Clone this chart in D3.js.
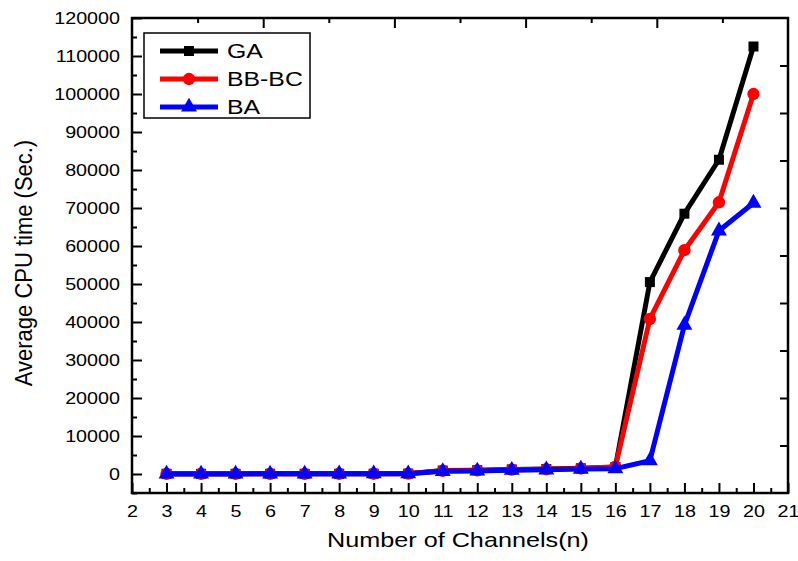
<!DOCTYPE html>
<html>
<head>
<meta charset="utf-8">
<script src="https://cdn.jsdelivr.net/npm/d3@7"></script>
<style>
  body { margin: 0; background: #fff; }
  svg { font-family: Arial, 'Liberation Sans', sans-serif; }
</style>
</head>
<body>
<div class="canvas"></div>
<script>
// values
const channels = [3, 4, 5, 6, 7, 8, 9, 10, 11, 12, 13, 14, 15, 16, 17, 18, 19, 20]
const gaTimes = [50, 50, 50, 60, 60, 70, 80, 100, 900, 1000, 1200, 1300, 1500, 1800, 50500, 68500, 82700, 112500]
const bbbcTimes = [40, 40, 40, 50, 50, 60, 70, 90, 850, 950, 1150, 1250, 1450, 1900, 40800, 58900, 71500, 100000]
const baTimes = [30, 30, 30, 40, 40, 50, 60, 80, 700, 800, 1000, 1100, 1300, 1400, 3500, 39200, 64000, 71300]
const xTickLabels = d3.range(2, 22)
const yTickValues = d3.range(0, 120001, 10000)

const series = [
  {name: 'GA', values: gaTimes, colour: '#000000', symbol: d3.symbolSquare, size: 100},
  {name: 'BB-BC', values: bbbcTimes, colour: '#ff0000', symbol: d3.symbolCircle, size: 120},
  {name: 'BA', values: baTimes, colour: '#0000ff', symbol: d3.symbolTriangle, size: 110}
]

const width = 798
const height = 561
const plot = {left: 132, right: 788, top: 18, bottom: 493}

const svg = d3.select('.canvas').append('svg')
  .attr('width', width)
  .attr('height', height)

// the original text is a bit wider than Arial, stretch it sideways
const stretch = (selection, k) => selection.each(function () {
  const len = this.getComputedTextLength()
  d3.select(this)
    .attr('textLength', len * k)
    .attr('lengthAdjust', 'spacingAndGlyphs')
})

const x = d3.scaleLinear().domain([2, 21]).range([plot.left, plot.right])
const y = d3.scaleLinear().domain([-5000, 120000]).range([plot.bottom, plot.top])

// frame-mirrored axes with their own spacing, like the original
const xTop = d3.scaleLinear().domain([0, 5]).range([plot.left, plot.right])
const yRight = d3.scaleLinear().domain([0, 10]).range([plot.bottom, plot.top])

const bottomAxis = d3.axisBottom(x)
  .tickValues(xTickLabels)
  .tickSize(-10)
  .tickPadding(12)
  .tickFormat(d3.format('d'))

const bottomMinor = d3.axisBottom(x)
  .tickValues(d3.range(2.5, 21, 1))
  .tickSize(-5)
  .tickFormat('')

const leftAxis = d3.axisLeft(y)
  .tickValues(yTickValues)
  .tickSize(-10)
  .tickPadding(12)
  .tickFormat(d3.format('d'))

const leftMinor = d3.axisLeft(y)
  .tickValues(d3.range(-5000, 120000, 10000))
  .tickSize(-5)
  .tickFormat('')

const topMajor = d3.axisTop(xTop).tickValues(d3.range(1, 5)).tickSize(-10).tickFormat('')
const topMinor = d3.axisTop(xTop).tickValues(d3.range(0.5, 5, 1)).tickSize(-5).tickFormat('')
const rightTicks = d3.axisRight(yRight).tickValues(d3.range(1, 10)).tickSize(-8).tickFormat('')

const addAxis = (axis, tx, ty) => svg.append('g')
  .attr('transform', `translate(${tx}, ${ty})`)
  .call(axis)
  .call(g => g.select('.domain').remove())
  .call(g => g.selectAll('line').attr('stroke', '#000').attr('stroke-width', 2))

addAxis(bottomAxis, 0, plot.bottom)
  .selectAll('text').attr('font-size', 17).attr('fill', '#000')
  .call(stretch, 1.16)
addAxis(bottomMinor, 0, plot.bottom)
addAxis(leftAxis, plot.left, 0)
  .selectAll('text').attr('font-size', 17).attr('fill', '#000')
  .call(stretch, 1.16)
addAxis(leftMinor, plot.left, 0)
addAxis(topMajor, 0, plot.top)
addAxis(topMinor, 0, plot.top)
addAxis(rightTicks, plot.right, 0)

svg.append('rect')
  .attr('x', plot.left)
  .attr('y', plot.top)
  .attr('width', plot.right - plot.left)
  .attr('height', plot.bottom - plot.top)
  .attr('fill', 'none')
  .attr('stroke', '#000')
  .attr('stroke-width', 2.5)

const makeLine = d3.line()
  .x((d, i) => x(channels[i]))
  .y(d => y(d))

const graph = svg.append('g')

series.forEach(s => {
  graph.append('path')
    .attr('d', makeLine(s.values))
    .attr('fill', 'none')
    .attr('stroke', s.colour)
    .attr('stroke-width', 5)
    .attr('stroke-linejoin', 'round')

  graph.selectAll(null)
    .data(s.values)
    .enter().append('path')
    .attr('transform', (d, i) => `translate(${x(channels[i])}, ${y(d)})`)
    .attr('d', d3.symbol().type(s.symbol).size(s.size))
    .attr('fill', s.colour)
})

// legend
const legend = svg.append('g')
  .attr('transform', 'translate(144, 33)')

legend.append('rect')
  .attr('width', 166)
  .attr('height', 85)
  .attr('fill', '#fff')
  .attr('stroke', '#000')
  .attr('stroke-width', 1.5)

series.forEach((s, i) => {
  const row = legend.append('g')
    .attr('transform', `translate(0, ${18 + i * 28})`)
  row.append('line')
    .attr('x1', 16).attr('x2', 74)
    .attr('stroke', s.colour)
    .attr('stroke-width', 5)
  row.append('path')
    .attr('transform', 'translate(45, 0)')
    .attr('d', d3.symbol().type(s.symbol).size(s.size))
    .attr('fill', s.colour)
  row.append('text')
    .attr('x', 83)
    .attr('dy', '0.35em')
    .attr('font-size', 20)
    .text(s.name)
    .call(stretch, 1.24)
})

svg.append('text')
  .attr('x', (plot.left + plot.right) / 2 - 2)
  .attr('y', 547)
  .attr('text-anchor', 'middle')
  .attr('font-size', 21)
  .text('Number of Channels(n)')
  .call(stretch, 1.2)

svg.append('text')
  .attr('transform', 'translate(32, 263) scale(1.1, 1) rotate(-90)')
  .attr('text-anchor', 'middle')
  .attr('font-size', 22)
  .text('Average CPU time (Sec.)')
</script>
</body>
</html>
